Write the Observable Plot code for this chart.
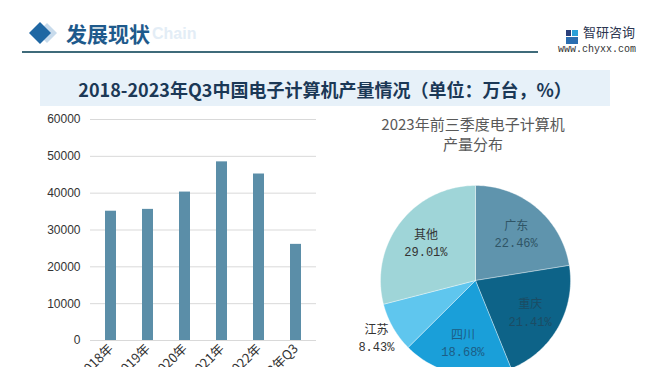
<!DOCTYPE html>
<html><head><meta charset="utf-8">
<script src="https://cdn.jsdelivr.net/npm/d3@7"></script>
<script src="https://cdn.jsdelivr.net/npm/@observablehq/plot@0.6"></script>
<style>
body{margin:0;background:#fff;width:656px;height:367px;overflow:hidden;position:relative;font-family:"Noto Sans CJK SC",sans-serif;}
.abs{position:absolute;}
</style></head>
<body>
<script>
// ---- data ----
const years = ["2018年","2019年","2020年","2021年","2022年","2023年Q3"];
const output = [35100, 35600, 40300, 48500, 45200, 26100];
const yTicks = [0,10000,20000,30000,40000,50000,60000];
const regions = ["广东","重庆","四川","江苏","其他"];
const shares = [22.46, 21.41, 18.68, 8.43, 29.01];

// ---- styles ----
const sliceColors = ["#5f94ad","#0d6388","#1a9fd9","#5fc6ee","#9fd5d8"];
const labelColors = ["#2f5566","#1b4c64","#1c5d85","#333333","#333333"];

function add(html, css){const d=document.createElement("div");d.className="abs";d.style.cssText=css;d.innerHTML=html;document.body.appendChild(d);return d;}

// header
add(`<svg width="40" height="24"><path d="M18 2 L28 12 L18 22 L8 12Z" fill="#c8dbec"/><path d="M11 1 L22 12 L11 23 L0 12Z" fill="#1f67a3"/></svg>`,"left:29px;top:21px;");
add("Chain","left:152px;top:25px;font:bold 16px 'Liberation Sans',sans-serif;color:#e3edf6;");
add("发展现状","left:66px;top:18px;font:bold 21px 'Noto Sans CJK SC';color:#1e5a8c;");
add("","left:22px;top:51px;width:516px;height:2px;background:#3f6b7a;");
add(`<svg width="12" height="14"><rect x="0" y="0" width="5" height="6" fill="#2a3f7a"/><rect x="6" y="0" width="6" height="6" fill="#2aa0d8"/><rect x="0" y="7" width="12" height="7" fill="#2a6db0"/></svg>`,"left:566px;top:25px;");
add("智研咨询","left:583px;top:22px;font:13px 'Noto Sans CJK SC';color:#2b3550;");
add("www.chyxx.com","left:558px;top:44px;font:10px 'Liberation Mono',monospace;color:#333;");

// title band
add("","left:40px;top:70px;width:570px;height:36px;background:#e7f1f9;");
add("2018-2023年Q3中国电子计算机产量情况（单位：万台，%）","left:40px;top:76px;width:570px;text-align:center;font:bold 18px 'Noto Sans CJK SC';color:#1b3856;");

// bar chart
const barData = years.map((y,i)=>({year:y, value:output[i]}));
const bar = Plot.plot({
  width:330, height:267,
  marginLeft:90, marginRight:14, marginTop:19, marginBottom:27,
  x:{domain:years, paddingInner:0.7, paddingOuter:0.35, label:null},
  y:{domain:[0,60000], label:null},
  style:{fontFamily:"'Liberation Sans',sans-serif", fontSize:"12px", color:"#333", overflow:"visible"},
  marks:[
    Plot.gridY(yTicks,{stroke:"#d9d9d9", strokeOpacity:1}),
    Plot.barY(barData,{x:"year", y:"value", fill:"#5b8ea8"}),
    Plot.axisY({ticks:yTicks, tickSize:0, tickPadding:10, tickFormat:d=>String(d), fontSize:12}),
    Plot.axisX({tickSize:0, tickRotate:-45, tickPadding:6, fontSize:13, fontFamily:"'Noto Sans CJK SC'"})
  ]
});
const bw = add("","left:0px;top:100px;");
bw.appendChild(bar);

// pie title
add("2023年前三季度电子计算机<br>产量分布","left:373px;top:114px;width:200px;text-align:center;font:15px/20px 'Noto Sans CJK SC';color:#595959;");

// pie
const R = 95;
let acc = 0;
const piePts = [];
const labels = [];
regions.forEach((name,i)=>{
  const a0 = acc/100*2*Math.PI; acc += shares[i]; const a1 = acc/100*2*Math.PI;
  piePts.push({name, x:0, y:0});
  const n = Math.max(2, Math.ceil((a1-a0)/(Math.PI/180)));
  for(let k=0;k<=n;k++){const a=a0+(a1-a0)*k/n; piePts.push({name, x:R*Math.sin(a), y:R*Math.cos(a)});}
  piePts.push({name, x:0, y:0});
  const am=(a0+a1)/2; const rf = shares[i] < 10 ? 1.2 : 0.66;
  labels.push({name, text:name+"\n"+shares[i].toFixed(2)+"%", x:R*rf*Math.sin(am), y:R*rf*Math.cos(am), c:labelColors[i]});
});
const pie = Plot.plot({
  width:240, height:207, margin:0,
  x:{domain:[-115,125], axis:null},
  y:{domain:[-87,120], axis:null},
  color:{domain:regions, range:sliceColors},
  style:{overflow:"visible"},
  marks:[
    Plot.line(piePts,{x:"x", y:"y", z:"name", fill:"name", stroke:"#ffffff", strokeWidth:0.6, strokeOpacity:0.6, curve:"linear"}),
    Plot.text(labels,{x:"x", y:"y", text:"text", fill:"c", fontSize:12, lineHeight:1.45, fontFamily:"'Liberation Mono','Noto Sans CJK SC',monospace"})
  ]
});
const pw = add("","left:360px;top:160px;");
pw.appendChild(pie);
</script>
</body></html>
